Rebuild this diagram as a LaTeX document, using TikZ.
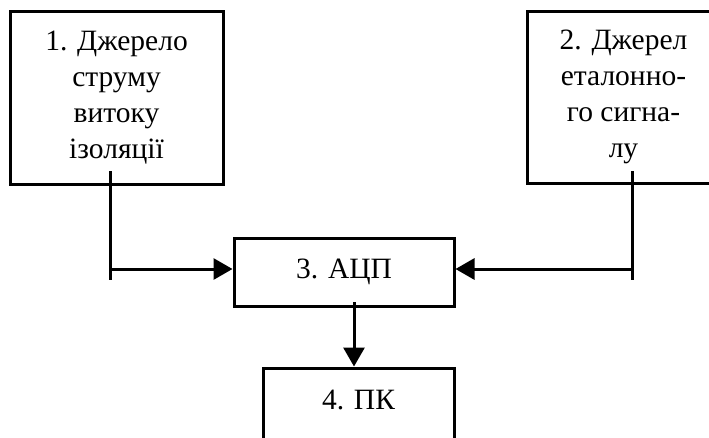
\documentclass[tikz,border=0pt]{standalone}
\usepackage{fontspec}
\setmainfont{Liberation Serif}
\usetikzlibrary{arrows.meta}
\begin{document}
\begin{tikzpicture}[x=1pt,y=-1pt,
  txt/.style={font=\fontsize{29.5}{36}\selectfont, align=center, inner sep=0pt},
  blk/.style={txt, draw, line width=3pt},
  conn/.style={line width=3pt},
  arr/.style={conn, -{Triangle[length=19pt,width=21pt]}}]
\useasboundingbox (0,0) rectangle (709,437);
\clip (0,0) rectangle (709,437);
\node[blk, minimum width=213pt, minimum height=173pt] (b1) at (116.5,97.5) {1. Джерело\\струму\\витоку\\ізоляції};
\node[blk, minimum width=193pt, minimum height=172pt] (b2) at (623.5,97) {2. Джерел\\еталонно-\\го сигна-\\лу};
\node[blk, minimum width=220pt, minimum height=68pt] (b3) at (344,272) {3. АЦП};
\node[blk, minimum width=191pt, minimum height=74pt] (b4) at (358.5,405) {};
\node[txt] (t4) at (358.5,400) {4. ПК};
% left connector
\coordinate (s1) at (110,171);
\coordinate (e1) at (110,280);
\coordinate (j1) at (110,269);
\draw[conn] (s1) -- (e1);
\draw[arr] (j1) -- (j1 -| b3.west);
% right connector
\coordinate (s2) at (632,171);
\coordinate (e2) at (632,280);
\coordinate (j2) at (632,269);
\draw[conn] (s2) -- (e2);
\draw[arr] (j2) -- (j2 -| b3.east);
% down connector
\coordinate (s3) at (354,302);
\draw[arr] (s3) -- (s3 |- b4.north);
\end{tikzpicture}
\end{document}
